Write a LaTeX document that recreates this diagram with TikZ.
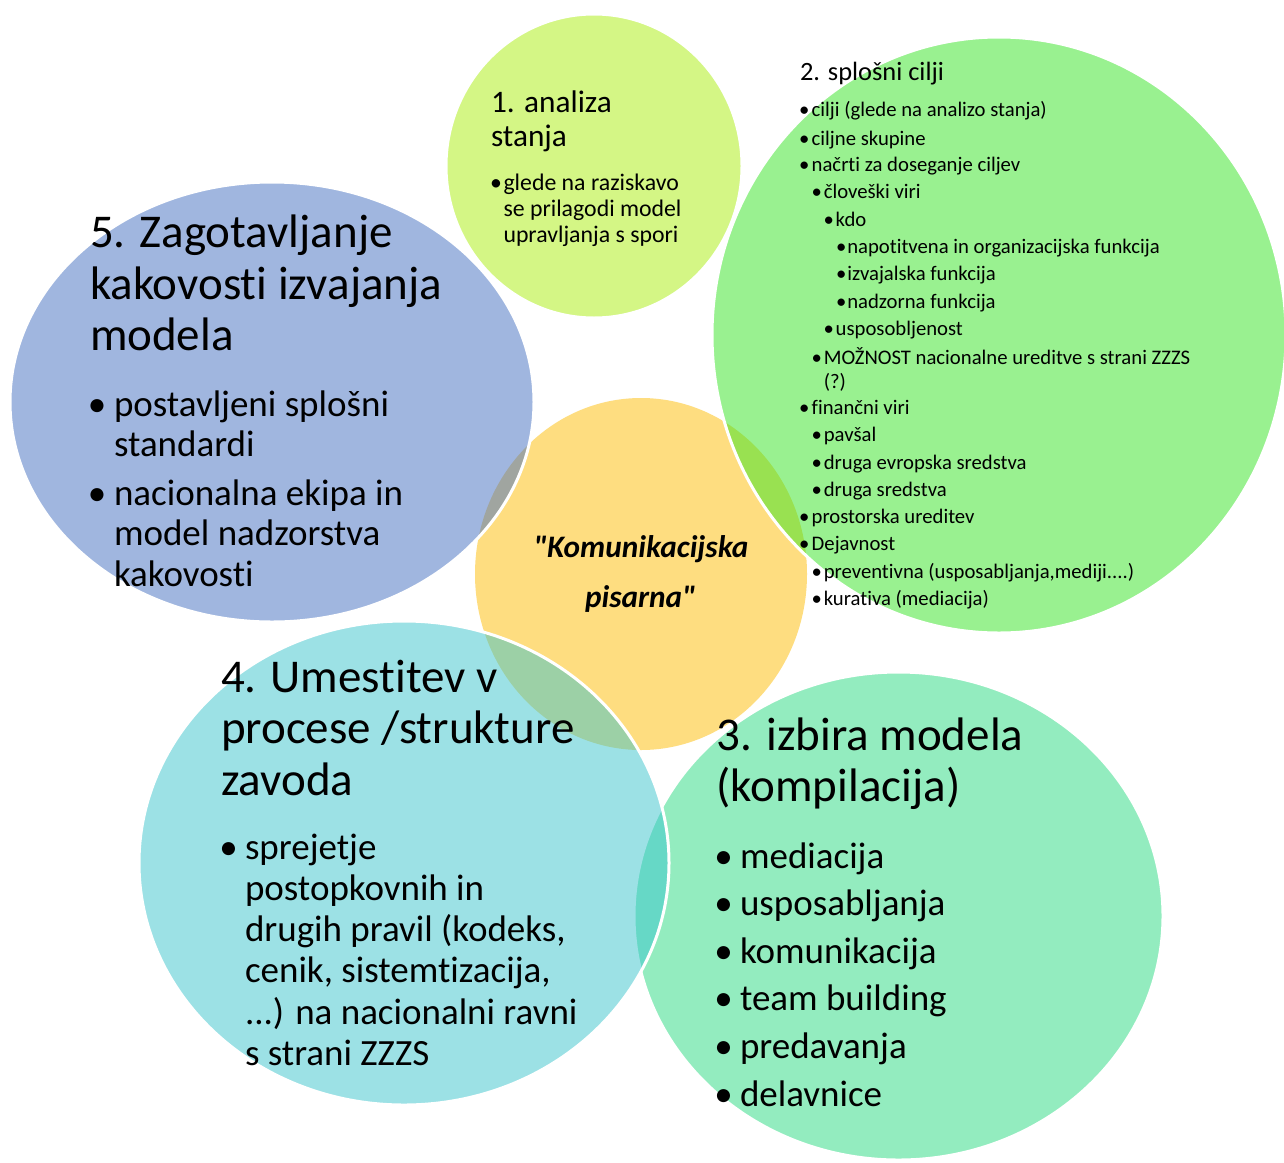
\documentclass[tikz,border=0pt]{standalone}
\usepackage{fontspec}
\setmainfont{Carlito}[Ligatures={TeXOff,NoCommon,NoContextual},RawFeature=-calt]
\definecolor{cYellow}{RGB}{254,221,128}
\definecolor{cLime}{RGB}{171,239,13}
\definecolor{cGreen}{RGB}{53,229,35}
\definecolor{cMint}{RGB}{41,219,129}
\definecolor{cCyan}{RGB}{59,197,205}
\definecolor{cBlue}{RGB}{67,111,193}
\begin{document}
\begin{tikzpicture}[x=1pt,y=-1pt,
  circ/.style={draw=white, line width=3pt, fill opacity=0.5, draw opacity=1},
  txt/.style={anchor=base west, inner sep=0pt, outer sep=0pt, text=black},
  blt/.style={anchor=base, inner sep=0pt, outer sep=0pt, text=black},
  fA/.style={font=\fontsize{47}{52}\selectfont},
  fB/.style={font=\fontsize{37}{41}\selectfont},
  fC/.style={font=\fontsize{31.3}{34}\selectfont},
  fD/.style={font=\fontsize{23.8}{26}\selectfont},
  fE/.style={font=\fontsize{26.4}{29}\selectfont},
  fF/.style={font=\fontsize{20.7}{23}\selectfont},
  fG/.style={font=\fontsize{31.3}{34}\selectfont\bfseries\itshape}]
\useasboundingbox (0,0) rectangle (1284,1162);
\fill[white] (0,0) rectangle (1284,1162);
\clip (0,0) rectangle (1284,1162);

% shapes
\fill[cYellow] (641,574) ellipse [x radius=166pt, y radius=176pt];
\path[circ, fill=cLime] (594,166) ellipse [x radius=148pt, y radius=152pt];
\path[circ, fill=cGreen] (999,335) ellipse [x radius=287pt, y radius=298pt];
\path[circ, fill=cMint] (898.5,916) ellipse [x radius=264.5pt, y radius=244pt];
\path[circ, fill=cCyan] (404,863) ellipse [x radius=265pt, y radius=242pt];
\path[circ, fill=cBlue] (272,402) ellipse [x radius=262pt, y radius=220pt];

% centre
\node[blt,fG] (c1) at (641,557) {"Komunikacijska};
\node[blt,fG] (c2) at (640.5,607) {pisarna"};

% 5
\node[txt,fA] (t5a) at (90,247.5) {5. Zagotavljanje};
\node[txt,fA] (t5b) at (90,299) {kakovosti izvajanja};
\node[txt,fA] (t5c) at (90,350.6) {modela};
\node[blt,fB] (b5a) at (97,416.7) {•};
\node[txt,fB] (t5d) at (114,416.7) {postavljeni splošni};
\node[txt,fB] (t5e) at (114,456.7) {standardi};
\node[blt,fB] (b5b) at (97,505) {•};
\node[txt,fB] (t5f) at (114,505) {nacionalna ekipa in};
\node[txt,fB] (t5g) at (114,545.7) {model nadzorstva};
\node[txt,fB] (t5h) at (114,586.7) {kakovosti};

% 1
\node[txt,fC] (t1a) at (491,112) {1. analiza};
\node[txt,fC] (t1b) at (491,146.5) {stanja};
\node[blt,fD] (b1a) at (496,190) {•};
\node[txt,fD] (t1c) at (503.5,190) {glede na raziskavo};
\node[txt,fD] (t1d) at (503.5,216) {se prilagodi model};
\node[txt,fD] (t1e) at (503.5,242) {upravljanja s spori};

% 2
\node[txt,fE] (t2a) at (800,80.7) {2. splošni cilji};
\node[blt,fF] (b2a) at (804.2,116.7) {•};
\node[txt,fF] (t2b) at (811.7,116.7) {cilji (glede na analizo stanja)};
\node[blt,fF] (b2b) at (804.2,145) {•};
\node[txt,fF] (t2c) at (811.7,145) {ciljne skupine};
\node[blt,fF] (b2c) at (804.2,171.7) {•};
\node[txt,fF] (t2d) at (811.7,171.7) {načrti za doseganje ciljev};
\node[blt,fF] (b2d) at (816.7,198.3) {•};
\node[txt,fF] (t2e) at (823.8,198.3) {človeški viri};
\node[blt,fF] (b2e) at (828.8,226) {•};
\node[txt,fF] (t2f) at (835.7,226) {kdo};
\node[blt,fF] (b2f) at (841.2,253.3) {•};
\node[txt,fF] (t2g) at (847.3,253.3) {napotitvena in organizacijska funkcija};
\node[blt,fF] (b2g) at (841.2,280.7) {•};
\node[txt,fF] (t2h) at (847.3,280.7) {izvajalska funkcija};
\node[blt,fF] (b2h) at (841.2,308.3) {•};
\node[txt,fF] (t2i) at (847.3,308.3) {nadzorna funkcija};
\node[blt,fF] (b2i) at (828.8,335.7) {•};
\node[txt,fF] (t2j) at (835.7,335.7) {usposobljenost};
\node[blt,fF] (b2j) at (816.7,364) {•};
\node[txt,fF] (t2k) at (823.8,364) {MOŽNOST nacionalne ureditve s strani ZZZS};
\node[txt,fF] (t2l) at (823.8,388.3) {(?)};
\node[blt,fF] (b2k) at (804.2,414) {•};
\node[txt,fF] (t2m) at (811.7,414) {finančni viri};
\node[blt,fF] (b2l) at (816.7,441.7) {•};
\node[txt,fF] (t2n) at (823.8,441.7) {pavšal};
\node[blt,fF] (b2m) at (816.7,469) {•};
\node[txt,fF] (t2o) at (823.8,469) {druga evropska sredstva};
\node[blt,fF] (b2n) at (816.7,496.7) {•};
\node[txt,fF] (t2p) at (823.8,496.7) {druga sredstva};
\node[blt,fF] (b2o) at (804.2,523.3) {•};
\node[txt,fF] (t2q) at (811.7,523.3) {prostorska ureditev};
\node[blt,fF] (b2p) at (804.2,550.7) {•};
\node[txt,fF] (t2r) at (811.7,550.7) {Dejavnost};
\node[blt,fF] (b2q) at (816.7,578.3) {•};
\node[txt,fF] (t2s) at (823.8,578.3) {preventivna (usposabljanja,mediji....)};
\node[blt,fF] (b2r) at (816.7,605.7) {•};
\node[txt,fF] (t2t) at (823.8,605.7) {kurativa (mediacija)};

% 3
\node[txt,fA] (t3a) at (716.5,750) {3. izbira modela};
\node[txt,fA] (t3b) at (716.5,801.6) {(kompilacija)};
\node[blt,fB] (b3a) at (723.5,868) {•};
\node[txt,fB] (t3c) at (740,868) {mediacija};
\node[blt,fB] (b3b) at (723.5,915.6) {•};
\node[txt,fB] (t3d) at (740,915.6) {usposabljanja};
\node[blt,fB] (b3c) at (723.5,963.2) {•};
\node[txt,fB] (t3e) at (740,963.2) {komunikacija};
\node[blt,fB] (b3d) at (723.5,1010.8) {•};
\node[txt,fB] (t3f) at (740,1010.8) {team building};
\node[blt,fB] (b3e) at (723.5,1058.4) {•};
\node[txt,fB] (t3g) at (740,1058.4) {predavanja};
\node[blt,fB] (b3f) at (723.5,1106) {•};
\node[txt,fB] (t3h) at (740,1106) {delavnice};

% 4
\node[txt,fA] (t4a) at (221,692) {4. Umestitev v};
\node[txt,fA] (t4b) at (221,743.6) {procese /strukture};
\node[txt,fA] (t4c) at (221,795.2) {zavoda};
\node[blt,fB] (b4a) at (228.5,859.3) {•};
\node[txt,fB] (t4d) at (245,859.3) {sprejetje};
\node[txt,fB] (t4e) at (245,900.5) {postopkovnih in};
\node[txt,fB] (t4f) at (245,941.7) {drugih pravil (kodeks,};
\node[txt,fB] (t4g) at (245,982.9) {cenik, sistemtizacija,};
\node[txt,fB] (t4h) at (245,1024.1) {...) na nacionalni ravni};
\node[txt,fB] (t4i) at (245,1065.3) {s strani ZZZS};
\end{tikzpicture}
\end{document}
